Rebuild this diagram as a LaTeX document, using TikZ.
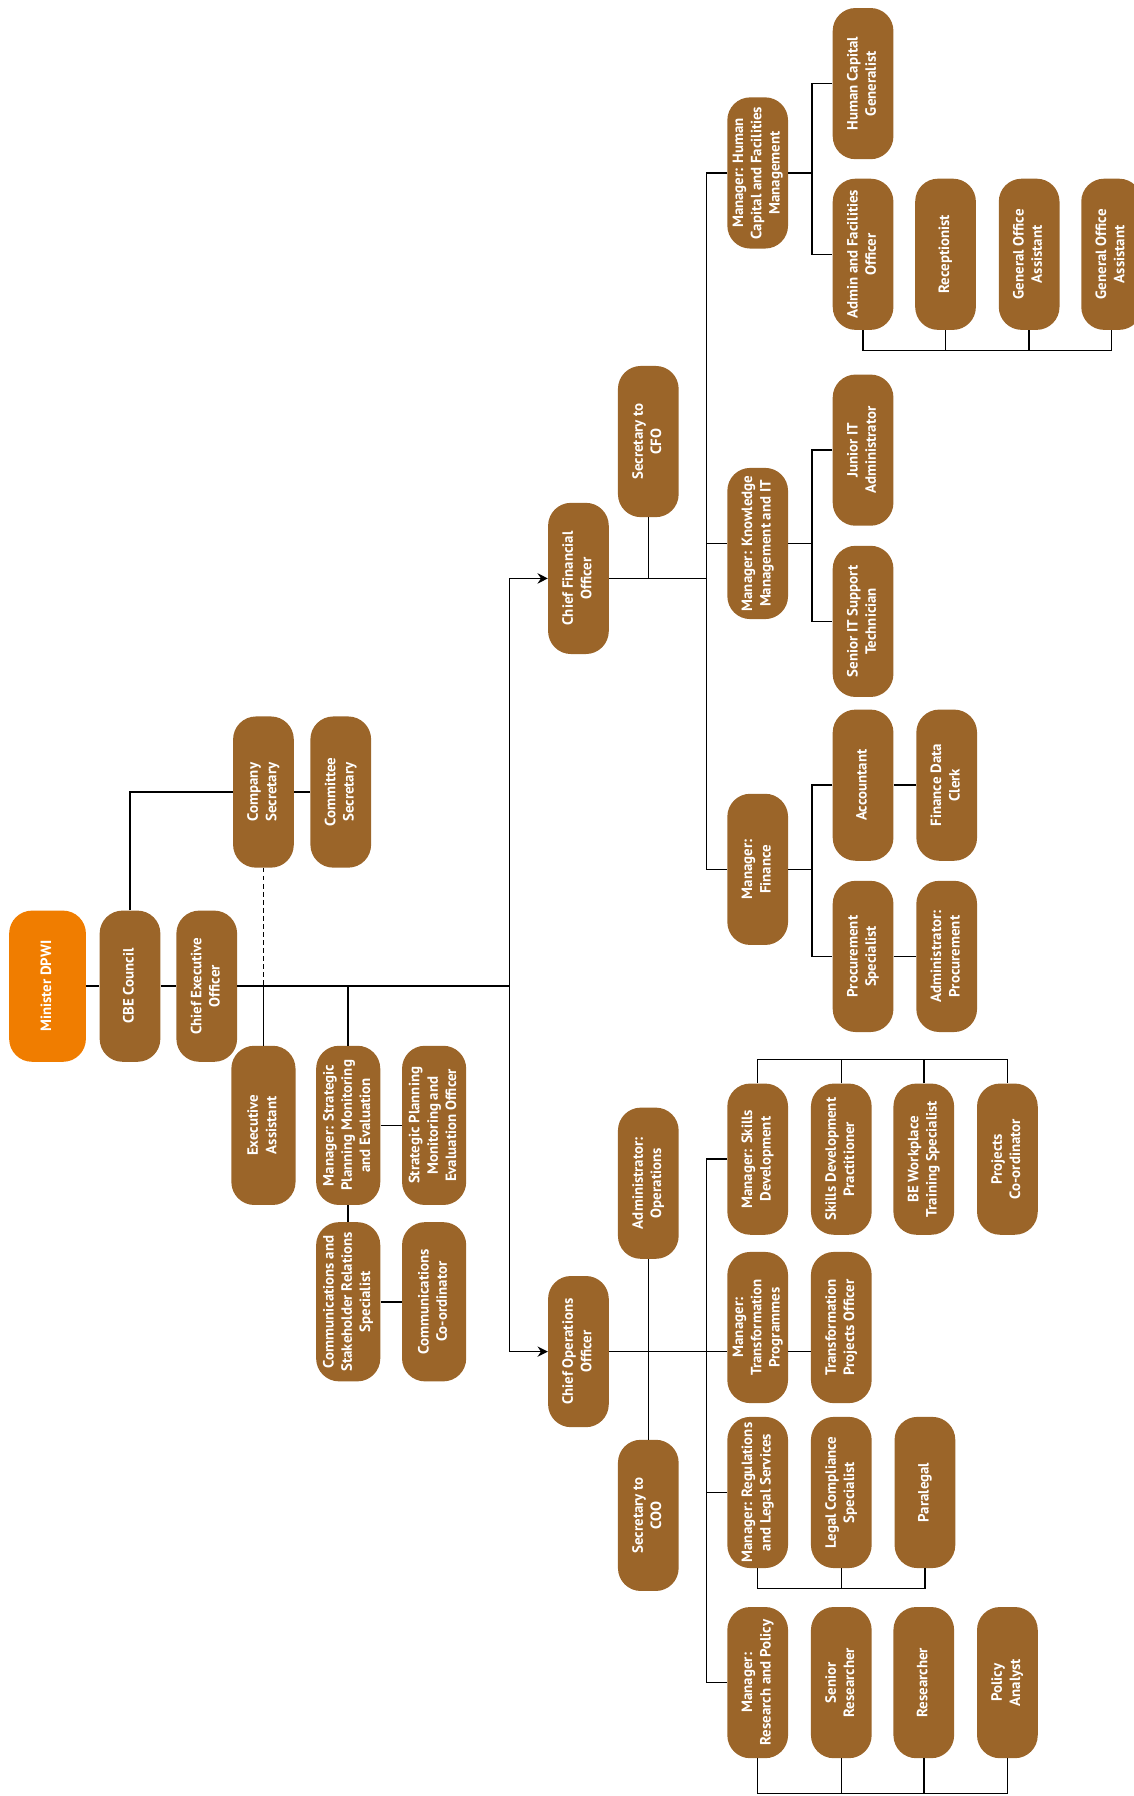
\documentclass[tikz,border=0pt]{standalone}
\usepackage{fontspec}
\setmainfont{PT Sans}
\usepackage{graphicx}
\usepackage{tikz}
\usetikzlibrary{arrows.meta, calc}

\definecolor{postbrown}{RGB}{155,101,41}
\definecolor{toporange}{RGB}{240,125,0}
\newcommand{\vt}[1]{\rotatebox{90}{\begin{tabular}{@{}c@{}}#1\end{tabular}}}

\begin{document}
\begin{tikzpicture}[x=1pt, y=-1pt,
    post/.style={rectangle, rounded corners=20pt, fill=postbrown, text=white, minimum width=53pt, minimum height=132pt, inner sep=0pt, font=\fontsize{13}{16}\selectfont\bfseries},
    big/.style={post, minimum width=56pt, minimum height=139pt},
    ln/.style={line width=1.3pt},
    arr/.style={ln, -{Stealth[length=9pt, width=9pt, inset=3pt]}}
]
    \useasboundingbox (0,0) rectangle (990,1568);

    % board and executive
    \node[post, fill=toporange, minimum width=67pt] (min) at (41.5,861) {\vt{Minister DPWI}};
    \node[post] (cbe) at (113.5,861) {\vt{CBE Council}};
    \node[post] (ceo) at (180.5,861) {\vt{Chief Executive\\Officer}};
    \node[post] (cosec) at (230,691.5) {\vt{Company\\Secretary}};
    \node[post] (comsec) at (297.5,691.5) {\vt{Committee\\Secretary}};
    \node[big] (exa) at (230,982.5) {\vt{Executive\\Assistant}};
    \node[big] (mspe) at (304,982.5) {\vt{Manager: Strategic\\Planning Monitoring\\and Evaluation}};
    \node[big] (spo) at (379,982.5) {\vt{Strategic Planning\\Monitoring and\\Evaluation Officer}};
    \node[big] (csr) at (304,1136.5) {\vt{Communications and\\Stakeholder Relations\\Specialist}};
    \node[big] (cco) at (379,1136.5) {\vt{Communications\\Co-ordinator}};

    \coordinate (mb) at (445,861);
    \draw[ln] (min) -- (cbe) -- (ceo);
    \draw[ln] (ceo) -- (mb);
    \draw[ln] (cbe.north) |- (cosec.west);
    \draw[ln] (cosec) -- (comsec);
    \draw[ln, dash pattern=on 4pt off 3pt] (cosec.south) -- (cosec.south |- ceo.east);
    \draw[ln] (cosec.south |- ceo.east) -- (exa.north);
    \draw[ln] (mspe.north |- ceo.east) -- (mspe.north);
    \draw[ln] (mspe) -- (spo);
    \draw[ln] (mspe) -- (csr);
    \draw[ln] (csr) -- (cco);

    % finance side
    \node[post] (cfo) at (505,505) {\vt{Chief Financial\\Officer}};
    \node[post] (scfo) at (566,385.5) {\vt{Secretary to\\CFO}};
    \draw[arr] (mb) |- (cfo.west);
    \draw[ln] (scfo.south) -- (scfo.south |- cfo.east);

    \node[post] (mhc) at (661.5,151) {\vt{Manager: Human\\Capital and Facilities\\Management}};
    \node[post] (hcg) at (753.5,73) {\vt{Human Capital\\Generalist}};
    \node[post] (afo) at (753.5,222) {\vt{Admin and Facilities\\Officer}};
    \node[post] (rec) at (825.5,222) {\vt{Receptionist}};
    \node[post] (goa1) at (898.5,222) {\vt{General Office\\Assistant}};
    \node[post] (goa2) at (970.5,222) {\vt{General Office\\Assistant}};

    \node[post] (mkm) at (661.5,474.5) {\vt{Manager: Knowledge\\Management and IT}};
    \node[post] (jita) at (753.5,393) {\vt{Junior IT\\Administrator}};
    \node[post] (sits) at (753.5,542.5) {\vt{Senior IT Support\\Technician}};

    \node[post] (mfin) at (661.5,759) {\vt{Manager:\\Finance}};
    \node[post] (acc) at (753.5,685.5) {\vt{Accountant}};
    \node[post] (fdc) at (826.5,685.5) {\vt{Finance Data\\Clerk}};
    \node[post] (proc) at (753.5,835) {\vt{Procurement\\Specialist}};
    \node[post] (aproc) at (826.5,835) {\vt{Administrator:\\Procurement}};

    \coordinate (fbus) at (617,505);
    \draw[ln] (cfo.east) -- (fbus);
    \draw[ln] (mhc.west) -| (fbus) |- (mfin.west);
    \draw[ln] (mkm.west) -- (mkm.west -| fbus);

    \coordinate (hcv) at (709,151);
    \draw[ln] (mhc.east) -- (hcv);
    \draw[ln] (hcg.west) -| (hcv) |- (afo.west);
    \coordinate (hcb) at (753.5,306);
    \draw[ln] (afo.south) -- (hcb) -| (goa2.south);
    \foreach \n in {rec,goa1}
        \draw[ln] (\n.south) -- (\n.south |- hcb);

    \coordinate (kmv) at (709,474.5);
    \draw[ln] (mkm.east) -- (kmv);
    \draw[ln] (jita.west) -| (kmv) |- (sits.west);

    \coordinate (fiv) at (709,759);
    \draw[ln] (mfin.east) -- (fiv);
    \draw[ln] (acc.west) -| (fiv) |- (proc.west);
    \draw[ln] (acc) -- (fdc);
    \draw[ln] (proc) -- (aproc);

    % operations side
    \node[post] (coo) at (505,1180) {\vt{Chief Operations\\Officer}};
    \node[post] (aops) at (566,1033) {\vt{Administrator:\\Operations}};
    \node[post] (scoo) at (566,1323) {\vt{Secretary to\\COO}};
    \draw[arr] (mb) |- (coo.west);
    \draw[ln] (aops) -- (scoo);

    \node[post] (msd) at (661.5,1012) {\vt{Manager: Skills\\Development}};
    \node[post] (sdp) at (734.5,1012) {\vt{Skills Development\\Practitioner}};
    \node[post] (bwt) at (806.5,1012) {\vt{BE Workplace\\Training Specialist}};
    \node[post] (pco) at (879.5,1012) {\vt{Projects\\Co-ordinator}};

    \node[post] (mtp) at (661.5,1159) {\vt{Manager:\\Transformation\\Programmes}};
    \node[post] (tpo) at (734.5,1159) {\vt{Transformation\\Projects Officer}};

    \node[post] (mrl) at (661.5,1303) {\vt{Manager: Regulations\\and Legal Services}};
    \node[post] (lcs) at (734.5,1303) {\vt{Legal Compliance\\Specialist}};
    \node[post] (para) at (807.5,1303) {\vt{Paralegal}};

    \node[post] (mrp) at (661.5,1469) {\vt{Manager:\\Research and Policy}};
    \node[post] (sres) at (734.5,1469) {\vt{Senior\\Researcher}};
    \node[post] (res) at (806.5,1469) {\vt{Researcher}};
    \node[post] (pan) at (879.5,1469) {\vt{Policy\\Analyst}};

    \coordinate (obus) at (617,1180);
    \draw[ln] (coo.east) -- (coo.east -| mtp.west);
    \draw[ln] (mtp.east |- coo.east) -- (tpo.west |- coo.east);
    \draw[ln] (msd.west) -| (obus) |- (mrp.west);
    \draw[ln] (mrl.west) -- (mrl.west -| obus);

    \coordinate (sdb) at (661.5,925);
    \draw[ln] (msd.north) -- (sdb) -| (pco.north);
    \foreach \n in {sdp,bwt}
        \draw[ln] (\n.north) -- (\n.north |- sdb);

    \coordinate (rlb) at (661.5,1387);
    \draw[ln] (mrl.south) -- (rlb) -| (para.south);
    \draw[ln] (lcs.south) -- (lcs.south |- rlb);

    \coordinate (rpb) at (661.5,1566);
    \draw[ln] (mrp.south) -- (rpb) -| (pan.south);
    \foreach \n in {sres,res}
        \draw[ln] (\n.south) -- (\n.south |- rpb);
\end{tikzpicture}
\end{document}
